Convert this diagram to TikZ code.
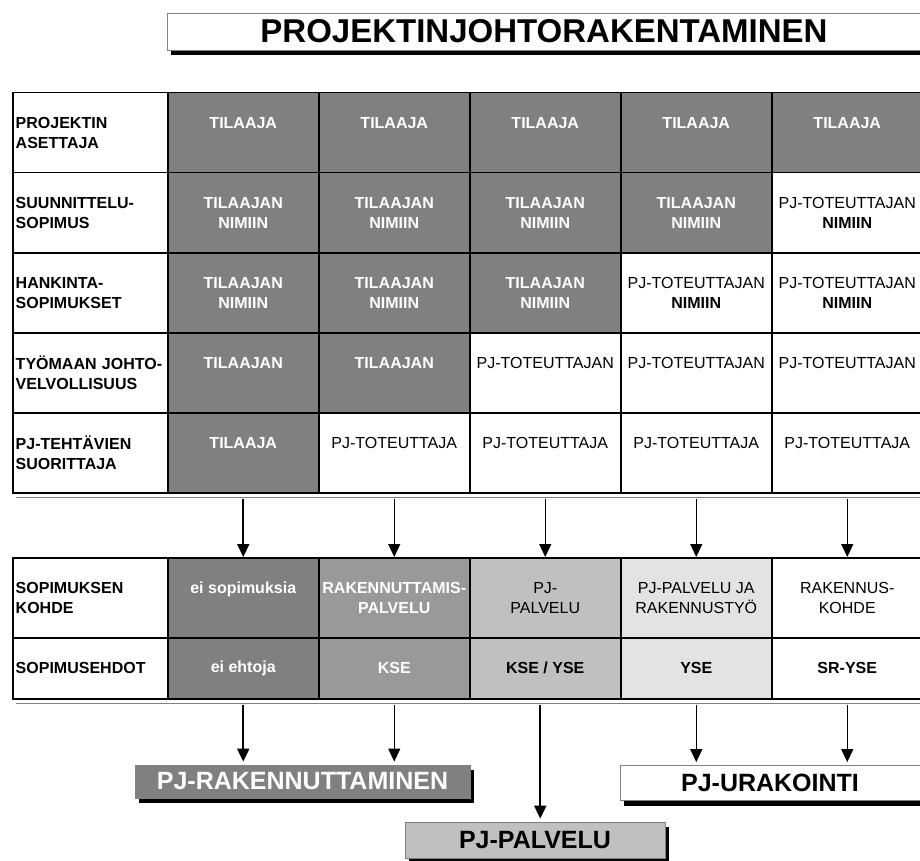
\documentclass[tikz,border=0pt]{standalone}
\usepackage{fontspec}
\setmainfont{Liberation Sans}
\usetikzlibrary{arrows.meta,shadows}
\definecolor{tummanharmaa}{HTML}{808080}
\definecolor{harmaa}{HTML}{999999}
\definecolor{vaaleanharmaa}{HTML}{C0C0C0}
\definecolor{haalea}{HTML}{E3E3E3}
\tikzset{
  solu/.style={draw, line width=1.5pt, minimum width=151pt, minimum height=80pt,
    anchor=north west, align=center, inner sep=1pt, fill=white,
    font=\fontsize{16}{20}\selectfont},
  otsake/.style={solu, minimum width=155pt, text width=149pt, inner xsep=3pt,
    align=left, font=\fontsize{16}{20}\selectfont\bfseries},
  tumma/.style={solu, fill=tummanharmaa, text=white, font=\fontsize{16}{20}\selectfont\bfseries},
  matala/.style={minimum height=61pt},
  varjo/.style={drop shadow={shadow xshift=4pt, shadow yshift=-5pt, fill=black, opacity=1}},
  laatikko/.style={draw=gray, line width=0.8pt, varjo, inner sep=0pt,
    font=\fontsize{25}{25}\selectfont\bfseries},
  nuoli/.style={-{Triangle[width=12pt,length=13pt]}, line width=1.2pt, shorten <=5pt},
  paksu/.style={line width=2pt}
}
\begin{document}
\begin{tikzpicture}[x=1pt, y=-1pt]
\useasboundingbox (0,0) rectangle (920,861);

% otsikko
\node[laatikko, fill=white, minimum width=754pt, minimum height=37pt,
  font=\fontsize{33}{33}\selectfont\bfseries] (otsikko) at (544,31.5) {PROJEKTINJOHTORAKENTAMINEN};

% ylempi taulukko
\node[otsake] (r1c0) at (12,92) {PROJEKTIN\\ASETTAJA};
\node[tumma] (r1c1) at (167,92) {TILAAJA\\~};
\node[tumma] (r1c2) at (318,92) {TILAAJA\\~};
\node[tumma] (r1c3) at (469,92) {TILAAJA\\~};
\node[tumma] (r1c4) at (620,92) {TILAAJA\\~};
\node[tumma] (r1c5) at (771,92) {TILAAJA\\~};

\node[otsake] (r2c0) at (12,172) {SUUNNITTELU-\\SOPIMUS};
\node[tumma] (r2c1) at (167,172) {TILAAJAN\\NIMIIN};
\node[tumma] (r2c2) at (318,172) {TILAAJAN\\NIMIIN};
\node[tumma] (r2c3) at (469,172) {TILAAJAN\\NIMIIN};
\node[tumma] (r2c4) at (620,172) {TILAAJAN\\NIMIIN};
\node[solu] (r2c5) at (771,172) {PJ-TOTEUTTAJAN\\\textbf{NIMIIN}};

\node[otsake] (r3c0) at (12,252) {HANKINTA-\\SOPIMUKSET};
\node[tumma] (r3c1) at (167,252) {TILAAJAN\\NIMIIN};
\node[tumma] (r3c2) at (318,252) {TILAAJAN\\NIMIIN};
\node[tumma] (r3c3) at (469,252) {TILAAJAN\\NIMIIN};
\node[solu] (r3c4) at (620,252) {PJ-TOTEUTTAJAN\\\textbf{NIMIIN}};
\node[solu] (r3c5) at (771,252) {PJ-TOTEUTTAJAN\\\textbf{NIMIIN}};

\node[otsake] (r4c0) at (12,332) {TYÖMAAN JOHTO-\\VELVOLLISUUS};
\node[tumma] (r4c1) at (167,332) {TILAAJAN\\~};
\node[tumma] (r4c2) at (318,332) {TILAAJAN\\~};
\node[solu] (r4c3) at (469,332) {PJ-TOTEUTTAJAN\\~};
\node[solu] (r4c4) at (620,332) {PJ-TOTEUTTAJAN\\~};
\node[solu] (r4c5) at (771,332) {PJ-TOTEUTTAJAN\\~};

\node[otsake] (r5c0) at (12,412) {PJ-TEHTÄVIEN\\SUORITTAJA};
\node[tumma] (r5c1) at (167,412) {TILAAJA\\~};
\node[solu] (r5c2) at (318,412) {PJ-TOTEUTTAJA\\~};
\node[solu] (r5c3) at (469,412) {PJ-TOTEUTTAJA\\~};
\node[solu] (r5c4) at (620,412) {PJ-TOTEUTTAJA\\~};
\node[solu] (r5c5) at (771,412) {PJ-TOTEUTTAJA\\~};
\draw[gray, line width=1pt] ([xshift=4pt,yshift=-4pt]r5c0.south west) -- ([xshift=4pt,yshift=-4pt]r5c5.south east);

% alempi taulukko
\node[otsake] (k1c0) at (12,557) {SOPIMUKSEN\\KOHDE};
\node[tumma] (k1c1) at (167,557) {ei sopimuksia\\~};
\node[tumma, fill=harmaa] (k1c2) at (318,557) {RAKENNUTTAMIS-\\PALVELU};
\node[solu, fill=vaaleanharmaa] (k1c3) at (469,557) {PJ-\\PALVELU};
\node[solu, fill=haalea] (k1c4) at (620,557) {PJ-PALVELU JA\\RAKENNUSTYÖ};
\node[solu] (k1c5) at (771,557) {RAKENNUS-\\KOHDE};

\node[otsake, matala] (k2c0) at (12,637) {SOPIMUSEHDOT};
\node[tumma, matala] (k2c1) at (167,637) {ei ehtoja};
\node[tumma, matala, fill=harmaa] (k2c2) at (318,637) {KSE};
\node[solu, matala, fill=vaaleanharmaa, font=\fontsize{16}{20}\selectfont\bfseries] (k2c3) at (469,637) {KSE / YSE};
\node[solu, matala, fill=haalea, font=\fontsize{16}{20}\selectfont\bfseries] (k2c4) at (620,637) {YSE};
\node[solu, matala, font=\fontsize{16}{20}\selectfont\bfseries] (k2c5) at (771,637) {SR-YSE};
\draw[gray, line width=1pt] ([xshift=4pt,yshift=-4pt]k2c0.south west) -- ([xshift=4pt,yshift=-4pt]k2c5.south east);

% tulokset
\node[laatikko, fill=tummanharmaa, text=white, minimum width=335pt, minimum height=33pt] (rak) at (302.5,781.5) {PJ-RAKENNUTTAMINEN};
\node[laatikko, fill=vaaleanharmaa, minimum width=260pt, minimum height=36pt] (pal) at (535,840) {PJ-PALVELU};
\node[laatikko, fill=white, minimum width=300pt, minimum height=35pt] (urak) at (770,783) {PJ-URAKOINTI};

% nuolet
\draw[nuoli, paksu] (r5c1.south) -- (k1c1.north);
\foreach \s in {2,...,5}
  \draw[nuoli] (r5c\s.south) -- (k1c\s.north);

\draw[nuoli, paksu, shorten >=3pt] (k2c1.south) -- (k2c1.south |- rak.north);
\draw[nuoli, shorten >=3pt] (k2c2.south) -- (k2c2.south |- rak.north);
\draw[nuoli, paksu, shorten >=3pt] ([xshift=-5pt]k2c3.south) -- ([xshift=-5pt]k2c3.south |- pal.north);
\draw[nuoli, shorten >=3pt] (k2c4.south) -- (k2c4.south |- urak.north);
\draw[nuoli, shorten >=3pt] (k2c5.south) -- (k2c5.south |- urak.north);
\end{tikzpicture}
\end{document}
